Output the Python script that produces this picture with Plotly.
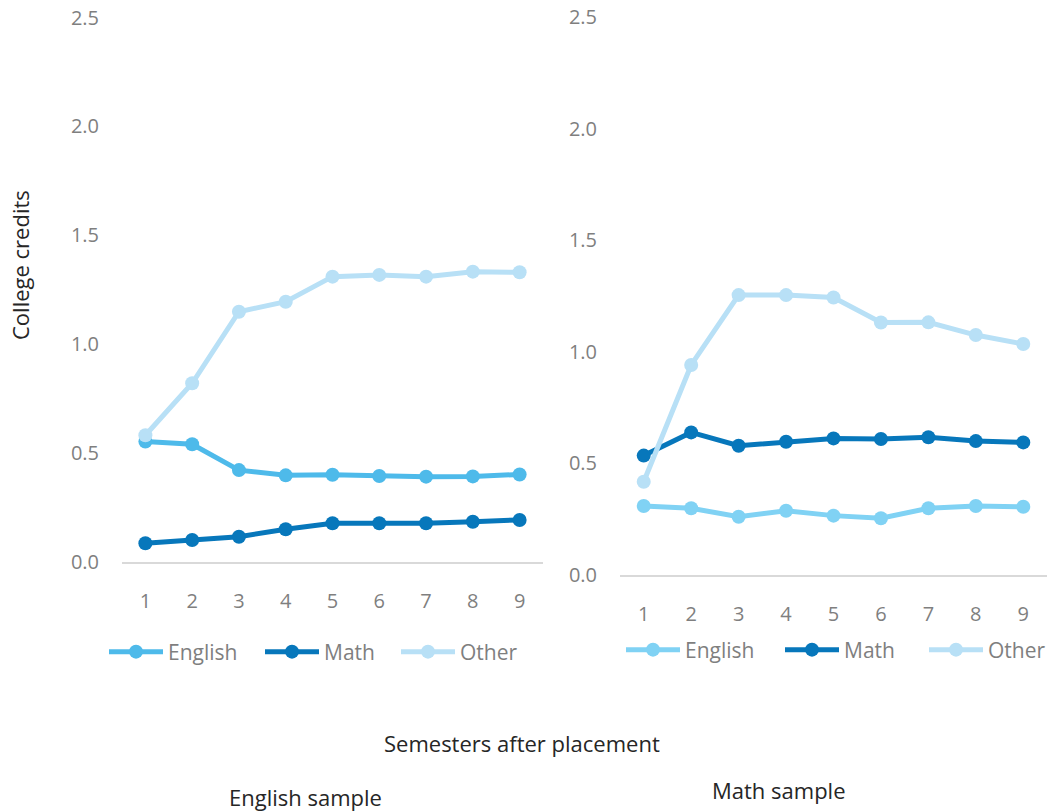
import plotly.graph_objects as go

W, H = 1050, 812

semesters = [1, 2, 3, 4, 5, 6, 7, 8, 9]
series_names = ["English", "Math", "Other"]

# English sample panel
eng_sample_english = [0.551, 0.539, 0.420, 0.396, 0.399, 0.393, 0.390, 0.391, 0.400]
eng_sample_math = [0.084, 0.099, 0.114, 0.148, 0.176, 0.176, 0.176, 0.183, 0.191]
eng_sample_other = [0.580, 0.819, 1.148, 1.194, 1.309, 1.317, 1.309, 1.332, 1.329]

# Math sample panel
math_sample_english = [0.309, 0.299, 0.261, 0.288, 0.266, 0.254, 0.299, 0.309, 0.306]
math_sample_math = [0.535, 0.639, 0.579, 0.597, 0.612, 0.609, 0.617, 0.600, 0.594]
math_sample_other = [0.418, 0.941, 1.254, 1.254, 1.243, 1.131, 1.132, 1.075, 1.035]

y_ticks = [0.0, 0.5, 1.0, 1.5, 2.0, 2.5]

left_colors = ["#4EBAEA", "#0777BB", "#B8E0F6"]
right_colors = ["#80D2F4", "#0777BB", "#B8E0F6"]

FONT = "Open Sans"
GRAY = "#7F7F7F"
DARK = "#262626"
TICK_SIZE = 20
LEG_SIZE = 21
TITLE_SIZE = 22

def px_x(p):
    return p / W

def px_y(p):
    return 1 - p / H

# legend anchor positions (pixels): start of the line symbol, vertical centre
left_leg_pos = [(110, 652), (266, 652), (402, 652)]
right_leg_pos = [(627, 650), (786, 650), (930, 650)]

fig = go.Figure()

left_data = [eng_sample_english, eng_sample_math, eng_sample_other]
right_data = [math_sample_english, math_sample_math, math_sample_other]

legends = {}
k = 0
for panel, (data, cols, poss, xa, ya) in enumerate([
        (left_data, left_colors, left_leg_pos, "x", "y"),
        (right_data, right_colors, right_leg_pos, "x2", "y2")]):
    for name, ys, col, pos in zip(series_names, data, cols, poss):
        k += 1
        lname = "legend" if k == 1 else f"legend{k}"
        fig.add_trace(go.Scatter(
            x=semesters, y=ys, name=name, mode="lines+markers",
            line=dict(color=col, width=5), marker=dict(color=col, size=14),
            xaxis=xa, yaxis=ya, legend=lname, showlegend=True))
        legends[lname] = dict(
            x=px_x(pos[0] - 6), y=px_y(pos[1]), xanchor="left", yanchor="middle",
            orientation="h", font=dict(family=FONT, size=LEG_SIZE, color=GRAY),
            itemwidth=54, bgcolor="rgba(0,0,0,0)", borderwidth=0, visible=True)

xcommon = dict(
    tickmode="array", tickvals=semesters, ticktext=[str(s) for s in semesters],
    showgrid=False, zeroline=False, showline=True, linecolor="#D9D9D9", linewidth=2,
    ticks="", tickfont=dict(family=FONT, size=TICK_SIZE, color=GRAY),
    range=[0.5, 9.5], fixedrange=True, automargin=False,
)
ycommon = dict(
    range=[0, 2.5], tickvals=y_ticks, ticktext=[f"{v:.1f}" for v in y_ticks],
    showgrid=False, zeroline=False, showline=False, ticks="",
    tickfont=dict(family=FONT, size=TICK_SIZE, color=GRAY), fixedrange=True,
    automargin=False,
)

def ann(text, x, y, angle=0):
    return dict(text=text, x=px_x(x), y=px_y(y), xref="paper", yref="paper",
                xanchor="center", yanchor="middle", showarrow=False, textangle=angle,
                font=dict(family=FONT, size=TITLE_SIZE, color=DARK))

fig.update_layout(
    width=W, height=H,
    showlegend=True,
    margin=dict(l=0, r=0, t=0, b=0, pad=0, autoexpand=False),
    paper_bgcolor="white", plot_bgcolor="white",
    font=dict(family=FONT, size=TICK_SIZE, color=GRAY),
    xaxis=dict(domain=[px_x(122), px_x(543)], anchor="y", ticklabelstandoff=20, **xcommon),
    yaxis=dict(domain=[px_y(561.5), px_y(17.5)], anchor="x", ticklabelstandoff=22, **ycommon),
    xaxis2=dict(domain=[px_x(620), px_x(1047)], anchor="y2", ticklabelstandoff=20, **xcommon),
    yaxis2=dict(domain=[px_y(575), px_y(17)], anchor="x2", ticklabelstandoff=22, **ycommon),
    annotations=[
        ann("Semesters after placement", 522, 743),
        ann("English sample", 305, 797),
        ann("Math sample", 779, 790),
        ann("College credits", 20, 265, -90),
    ],
    **legends,
)

fig.write_html("out.html")
